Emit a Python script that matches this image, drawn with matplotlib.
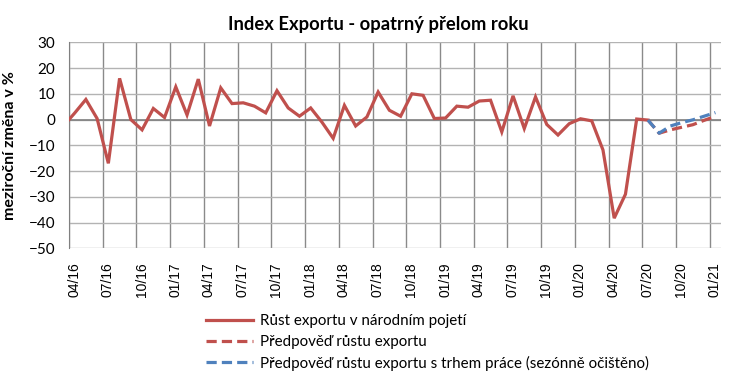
import numpy as np
import matplotlib
matplotlib.use('Agg')
import matplotlib.pyplot as plt

# mesicni data, prvni bod 03/16 (lezi pred zacatkem osy)
vyvoz = [-2.5, 2.5, 7.8, 0.4, -17.0, 16.0, 0.0, -4.0, 4.3, 0.8, 12.7, 1.8,
         15.7, -2.5, 12.3, 6.2, 6.5, 5.2, 2.6, 11.2, 4.5, 1.3, 4.5, -1.0,
         -7.3, 5.5, -2.5, 1.0, 10.7, 3.6, 1.3, 10.0, 9.4, 0.4, 0.6, 5.2,
         4.8, 7.2, 7.5, -4.8, 9.2, -3.5, 8.8, -1.9, -6.0, -1.6, 0.3, -0.5,
         -11.8, -38.3, -29.0, 0.2, -0.2]
predpoved = [-0.2, -5.3, -4.0, -3.0, -2.0, -0.3, 1.2]
predpoved_trh = [-0.2, -5.3, -2.5, -1.2, -0.1, 1.3, 2.7]

popisky = ['04/16', '07/16', '10/16', '01/17', '04/17', '07/17', '10/17',
           '01/18', '04/18', '07/18', '10/18', '01/19', '04/19', '07/19',
           '10/19', '01/20', '04/20', '07/20', '10/20', '01/21']

cervena = '#C0504D'
modra = '#4F81BD'

x = np.arange(len(vyvoz)) - 0.5
x_pred = x[-1] + np.arange(len(predpoved))

fig = plt.figure(figsize=(7.56, 3.83), dpi=100)
ax = fig.add_axes([69/756, 1-248.3/383, (721-69)/756, (248.3-42.3)/383])

ax.plot(x, vyvoz, color=cervena, lw=2.3, solid_joinstyle='miter',
        label='Růst exportu v národním pojetí', zorder=3)
ax.plot(x_pred, predpoved, color=cervena, lw=2.3, dashes=(3.2, 1.6),
        label='Předpověď růstu exportu', zorder=3)
ax.plot(x_pred, predpoved_trh, color=modra, lw=2.3, dashes=(3.2, 1.6),
        label='Předpověď růstu exportu s trhem práce (sezónně očištěno)', zorder=4)

ax.set_xlim(0, 58)
ax.set_ylim(-50, 30)
ax.set_yticks(np.arange(-50, 31, 10))
# popisky u stredu mesice, mrizka na hranici ctvrtleti
ax.set_xticks(np.arange(len(popisky)) * 3 + 0.45)
ax.set_xticklabels(popisky, rotation=90, family='Liberation Sans', fontsize=10)
ax.set_xticks(np.arange(len(popisky)) * 3, minor=True)
ax.tick_params(axis='x', which='both', length=0, pad=10)
ax.tick_params(axis='y', length=0, pad=10, labelsize=11)
for t in ax.get_yticklabels():
    t.set_family('Lato')

ax.grid(axis='y', color='#B3B3B3', lw=1)
ax.grid(axis='x', which='minor', color='#8A8A8A', lw=1)
ax.set_axisbelow(True)
ax.axhline(0, color='#808080', lw=1.2, zorder=2)
for s in ['top', 'right', 'bottom']:
    ax.spines[s].set_visible(False)
ax.spines['left'].set_color('#808080')

ax.set_ylabel('meziroční změna v %', family='Lato', fontweight='bold', fontsize=11.5, labelpad=8)
fig.text(0.5, 0.935, 'Index Exportu - opatrný přelom roku', ha='center', va='center',
         family='Lato', fontweight='bold', fontsize=13.2)

fig.legend(loc='upper left', bbox_to_anchor=(200/756, 1-308/383), frameon=False,
           prop={'family': 'Lato', 'size': 10.9}, handlelength=3.1, labelspacing=0.45,
           handletextpad=0.45, borderaxespad=0)

plt.savefig('out.png', dpi=100)
